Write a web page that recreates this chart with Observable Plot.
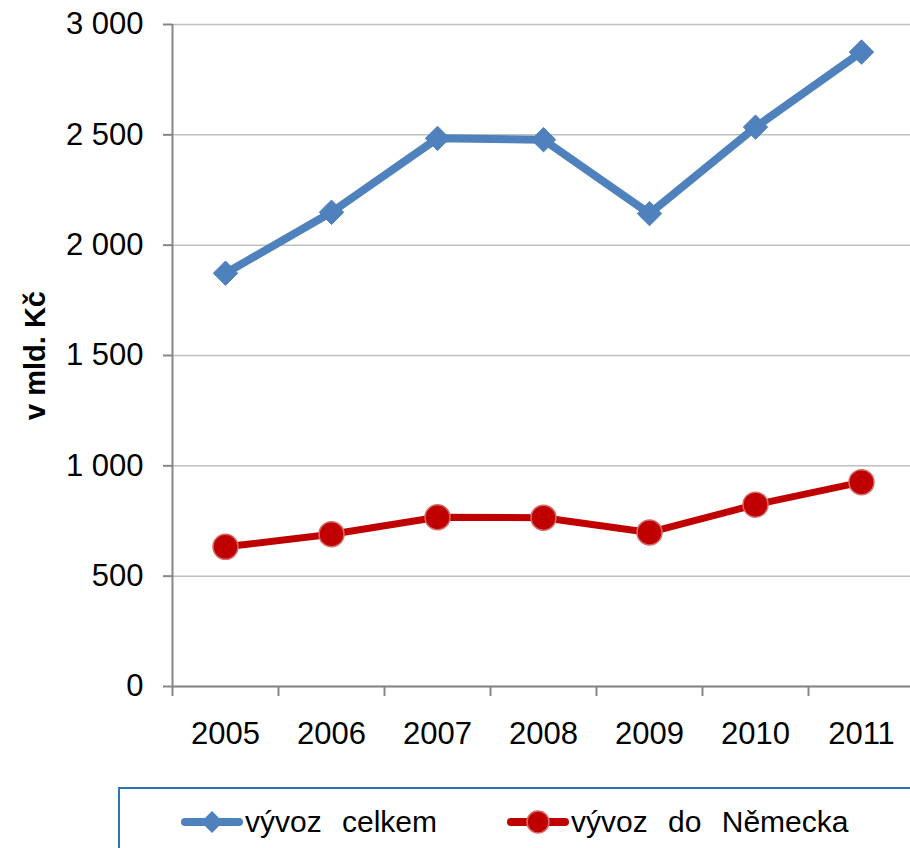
<!DOCTYPE html>
<html>
<head>
<meta charset="utf-8">
<script src="https://cdn.jsdelivr.net/npm/d3@7"></script>
<script src="https://cdn.jsdelivr.net/npm/@observablehq/plot@0.6"></script>
<style>
  html, body { margin: 0; padding: 0; background: #fff; overflow: hidden; }
  #wrap { position: relative; width: 910px; height: 848px; font-family: "Liberation Sans", Arial, sans-serif; }
  #legend { position: absolute; left: 118px; top: 787px; width: 800px; height: 80px;
            border: 2px solid #2e75b6; box-sizing: border-box; background: #fff; }
  .item { position: absolute; top: 16px; display: flex; align-items: center; font-size: 30px; word-spacing: 12px; color: #000; }
  .item svg { display: block; margin-right: 2px; }
</style>
</head>
<body>
<div id="wrap"></div>
<script>
const years = [2005, 2006, 2007, 2008, 2009, 2010, 2011];
const vyvozCelkem = [1873, 2149, 2484, 2478, 2143, 2535, 2875];
const vyvozNemecko = [633, 690, 767, 765, 698, 824, 926];
const seriesNames = ["vývoz celkem", "vývoz do Německa"];
const yTicks = [0, 500, 1000, 1500, 2000, 2500, 3000];
const yLabel = "v mld. Kč";

const blue = "#4f81bd", red = "#c00000";
const dataA = years.map((y, i) => ({year: y, value: vyvozCelkem[i]}));
const dataB = years.map((y, i) => ({year: y, value: vyvozNemecko[i]}));
const bounds = years.map(y => y - 0.5).concat([years[years.length - 1] + 0.5]);
const fmt = d => d3.format(",")(d).replace(/,/g, " ");

const chart = Plot.plot({
  width: 910,
  height: 780,
  marginTop: 24,
  marginBottom: 94,
  marginLeft: 172,
  marginRight: 0,
  style: {fontFamily: "'Liberation Sans', Arial, sans-serif", background: "#fff", color: "#000"},
  x: {domain: [bounds[0], bounds[bounds.length - 1]], range: [172, 914]},
  y: {domain: [0, 3000]},
  marks: [
    Plot.gridY(yTicks, {stroke: "#bfbfbf", strokeOpacity: 1, strokeWidth: 1.5}),
    Plot.axisY(yTicks, {tickSize: 9, tickPadding: 20, fontSize: 31, tickFormat: fmt, stroke: "#868686", strokeWidth: 2, label: null, fill: "#000"}),
    Plot.axisX(years, {tickSize: 0, tickPadding: 35, fontSize: 31, tickFormat: d => String(d), label: null, fill: "#000"}),
    Plot.axisX(bounds, {tickSize: 10, tickFormat: () => "", stroke: "#868686", strokeWidth: 2, label: null}),
    Plot.ruleX([bounds[0]], {stroke: "#868686", strokeWidth: 2}),
    Plot.ruleY([0], {stroke: "#868686", strokeWidth: 2}),
    Plot.text([yLabel], {frameAnchor: "left", text: d => d, rotate: -90, dx: -137, textAnchor: "middle", lineAnchor: "middle", fontSize: 29, fontWeight: "bold", fill: "#000"}),
    Plot.line(dataA, {x: "year", y: "value", stroke: blue, strokeWidth: 8, strokeLinejoin: "round"}),
    Plot.dot(dataA, {x: "year", y: "value", symbol: "diamond2", r: 11, fill: blue, stroke: blue, strokeWidth: 1}),
    Plot.line(dataB, {x: "year", y: "value", stroke: red, strokeWidth: 7, strokeLinejoin: "round"}),
    Plot.dot(dataB, {x: "year", y: "value", r: 12.5, fill: red, stroke: "#d46a6a", strokeWidth: 1.5})
  ]
});

const wrap = document.getElementById("wrap");
wrap.appendChild(chart);

const legend = document.createElement("div");
legend.id = "legend";
legend.innerHTML = `
  <div class="item" style="left:61px">
    <svg width="62" height="30"><line x1="4" y1="15" x2="58" y2="15" stroke="${blue}" stroke-width="8" stroke-linecap="round"/>
      <path d="M31 4 L42 15 L31 26 L20 15 Z" fill="${blue}"/></svg><span>${seriesNames[0]}</span></div>
  <div class="item" style="left:387px">
    <svg width="62" height="30"><line x1="4" y1="15" x2="58" y2="15" stroke="${red}" stroke-width="8" stroke-linecap="round"/>
      <circle cx="31" cy="15" r="11" fill="${red}" stroke="#d46a6a" stroke-width="1.5"/></svg><span>${seriesNames[1]}</span></div>`;
wrap.appendChild(legend);
</script>
</body>
</html>
